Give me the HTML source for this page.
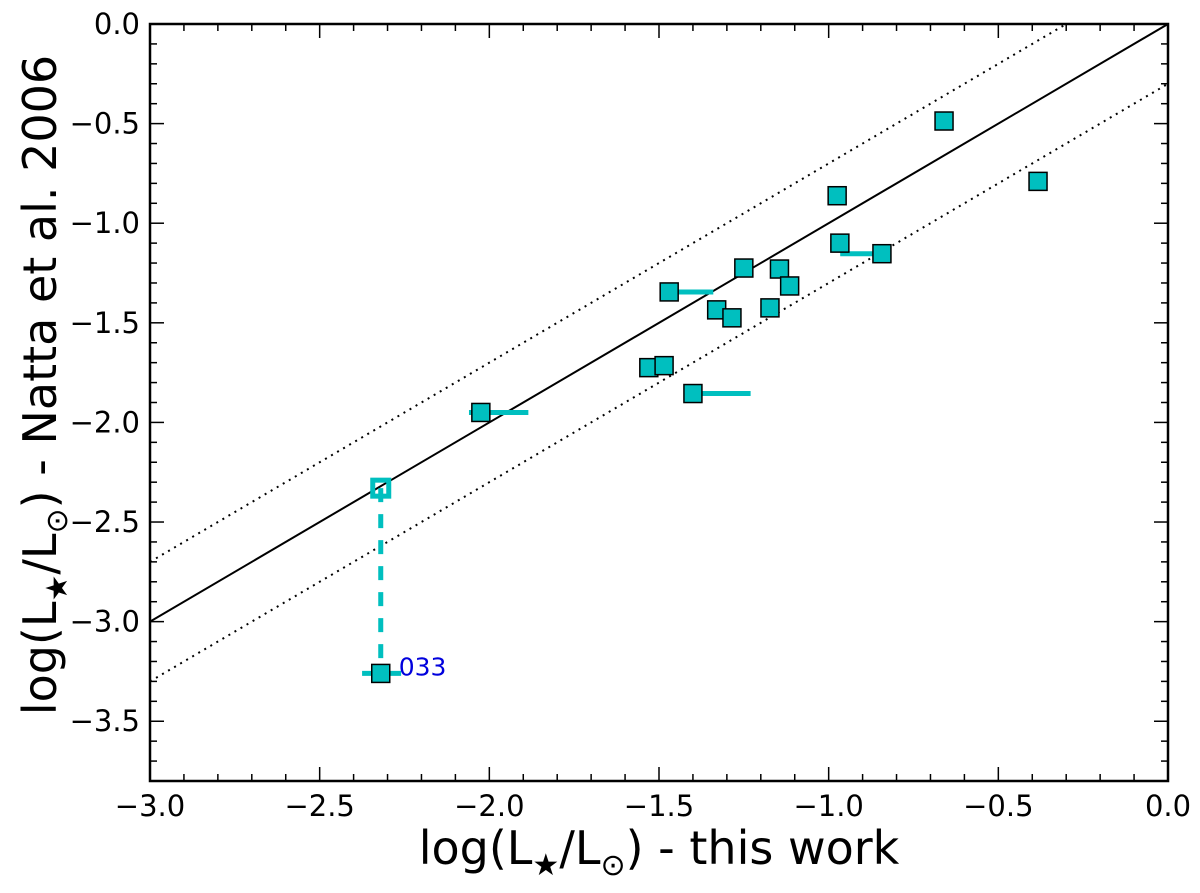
<!DOCTYPE html>
<html><head><meta charset="utf-8"><style>
body{margin:0;background:#fff;font-family:"Liberation Sans","DejaVu Sans",sans-serif}
</style></head><body>
<svg id="chart" width="1200" height="888" xmlns="http://www.w3.org/2000/svg">
<g id="marks"></g>
<g id="axes"></g>
<text x="659" y="864" text-anchor="middle" font-size="46" font-family="DejaVu Sans, sans-serif">log(L<tspan font-size="30" dy="11">★</tspan><tspan dy="-11">/L</tspan><tspan font-size="30" dy="11">⊙</tspan><tspan dy="-11">) - this work</tspan></text>
<text transform="translate(56,385) rotate(-90)" text-anchor="middle" font-size="46" font-family="DejaVu Sans, sans-serif">log(L<tspan font-size="30" dy="11">★</tspan><tspan dy="-11">/L</tspan><tspan font-size="30" dy="11">⊙</tspan><tspan dy="-11">) - Natta et al. 2006</tspan></text>
</svg>
<script>
const xs=[-2.025,-1.47,-1.25,-1.33,-1.285,-1.53,-1.485,-1.40,-1.173,-1.145,-1.115,-0.975,-0.967,-0.843,-0.66,-0.383,-2.32];
const ys=[-1.95,-1.345,-1.225,-1.435,-1.475,-1.725,-1.715,-1.855,-1.425,-1.23,-1.315,-0.862,-1.10,-1.153,-0.487,-0.79,-3.26];
const xLo=[-2.06,-1.47,null,null,null,null,null,-1.40,null,null,null,null,null,-0.966,null,null,-2.375];
const xHi=[-1.885,-1.34,null,null,null,null,null,-1.23,null,null,null,null,null,-0.843,null,null,-2.26];
const openX=[-2.32], openY=[-2.33];
const xTicks=[-3.0,-2.5,-2.0,-1.5,-1.0,-0.5,0.0];
const yTicks=[0.0,-0.5,-1.0,-1.5,-2.0,-2.5,-3.0,-3.5];
const L=150,R=1168,T=24,B=781,X0=-3,X1=0,Y0=-3.8,Y1=0;
const sx=v=>L+(v-X0)/(X1-X0)*(R-L);
const sy=v=>B-(v-Y0)/(Y1-Y0)*(B-T);
const NS="http://www.w3.org/2000/svg";
function mk(p,t,a){const e=document.createElementNS(NS,t);for(const k in a)e.setAttribute(k,a[k]);p.appendChild(e);return e;}
const m=document.getElementById('marks'),ax=document.getElementById('axes');
const C="#00bfbf";
let l=mk(m,'line',{x1:sx(-3),y1:sy(-3),x2:sx(0),y2:sy(0),stroke:'#000','stroke-width':2});


[0.3,-0.3].forEach((o,i)=>{
 const x1=Math.max(-3,-3.8-o), x2=Math.min(0,-o);
 let d=mk(m,'line',{x1:sx(x1),y1:sy(x1+o),x2:sx(x2),y2:sy(x2+o),stroke:'#000','stroke-width':2,'stroke-dasharray':'2,5'});
 
 
});
let dc=mk(m,'line',{x1:sx(openX[0]),y1:sy(openY[0]),x2:sx(xs[16]),y2:sy(ys[16]),stroke:C,'stroke-width':5,'stroke-dasharray':'14,12'});


xs.forEach((x,i)=>{if(xLo[i]===null)return;
 let e=mk(m,'line',{x1:sx(xLo[i]),y1:sy(ys[i]),x2:sx(xHi[i]),y2:sy(ys[i]),stroke:C,'stroke-width':5});
 
 
});
xs.forEach((x,i)=>{
 let r=mk(m,'rect',{x:sx(x)-9,y:sy(ys[i])-9,width:18,height:18,fill:C,stroke:'#000','stroke-width':1.5});
 
 
});
openX.forEach((x,i)=>{
 let r=mk(m,'rect',{x:sx(x)-8,y:sy(openY[i])-8,width:16,height:16,fill:'none',stroke:C,'stroke-width':5});
 
 
});
let lb=mk(m,'text',{x:sx(xs[16])+18,y:sy(ys[16])+2,fill:'#0000dd','font-size':25,'font-family':'DejaVu Sans, sans-serif'});
lb.textContent='033';


let f=mk(ax,'rect',{x:L,y:T,width:R-L,height:B-T,fill:'none',stroke:'#000','stroke-width':2.5});


for(let k=0;k<=30;k++){const v=-3+k*0.1,x=sx(v),len=k%5?7:14;
 mk(ax,'line',{x1:x,y1:B,x2:x,y2:B-len,stroke:'#000','stroke-width':1.5});
 mk(ax,'line',{x1:x,y1:T,x2:x,y2:T+len,stroke:'#000','stroke-width':1.5});}
for(let k=0;k<=38;k++){const v=-k*0.1,y=sy(v),len=k%5?7:14;
 mk(ax,'line',{x1:L,y1:y,x2:L+len,y2:y,stroke:'#000','stroke-width':1.5});
 mk(ax,'line',{x1:R,y1:y,x2:R-len,y2:y,stroke:'#000','stroke-width':1.5});}
xTicks.forEach(v=>{let t=mk(ax,'text',{x:sx(v),y:B+35,'text-anchor':'middle','font-size':29,'font-family':'DejaVu Sans, sans-serif'});
 t.textContent=v.toFixed(1).replace('-','−');
 
 });
yTicks.forEach(v=>{let t=mk(ax,'text',{x:L-10,y:sy(v)+10,'text-anchor':'end','font-size':29,'font-family':'DejaVu Sans, sans-serif'});
 t.textContent=v.toFixed(1).replace('-','−');
 
 });
</script>
</body></html>
